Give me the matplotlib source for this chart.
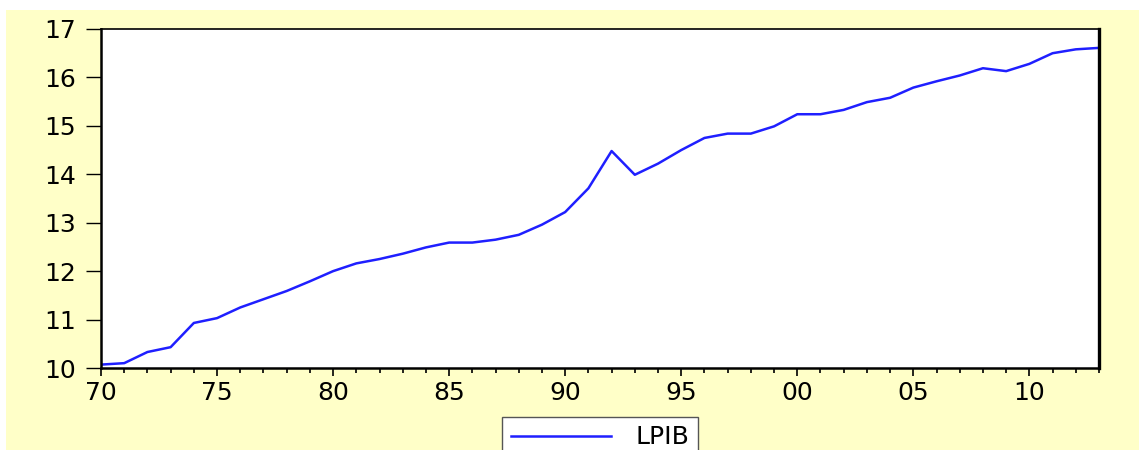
import matplotlib
matplotlib.use("Agg")
import matplotlib.pyplot as plt
from matplotlib.patches import Rectangle
from matplotlib.ticker import MultipleLocator, FixedLocator, FuncFormatter

# yearly log of GDP, 1970-2013
years = list(range(1970, 2014))
lpib = [10.07, 10.10, 10.33, 10.43, 10.93, 11.03, 11.25, 11.42, 11.59, 11.79,
        12.00, 12.16, 12.25, 12.36, 12.49, 12.59, 12.59, 12.65, 12.75, 12.96,
        13.22, 13.71, 14.48, 13.99, 14.22, 14.50, 14.75, 14.84, 14.84, 14.99,
        15.24, 15.24, 15.33, 15.49, 15.58, 15.79, 15.92, 16.04, 16.19, 16.13,
        16.28, 16.50, 16.58, 16.61]

major_years = [1970, 1975, 1980, 1985, 1990, 1995, 2000, 2005, 2010]
y_ticks = [10, 11, 12, 13, 14, 15, 16, 17]

bg = "#ffffc8"
plt.rcParams["font.family"] = ["DejaVu Sans"]

fig = plt.figure(figsize=(11.39, 4.5), dpi=100)
fig.patch.set_facecolor("white")
# pale yellow panel behind the graph
fig.patches.append(Rectangle((6 / 1139, 0), 1, 1 - 10 / 450, transform=fig.transFigure,
                             facecolor=bg, edgecolor="none", zorder=-10))

ax = fig.add_axes([101 / 1139, 1 - 368 / 450, 998 / 1139, 339 / 450])
ax.set_facecolor("white")
ax.plot(years, lpib, color="#1f1fff", linewidth=1.8, label="LPIB")

ax.set_xlim(1970, 2013)
ax.set_ylim(10, 17)
ax.xaxis.set_major_locator(FixedLocator(major_years))
ax.xaxis.set_minor_locator(MultipleLocator(1))
ax.xaxis.set_major_formatter(FuncFormatter(lambda v, p: f"{int(round(v)) % 100:02d}"))
ax.yaxis.set_major_locator(FixedLocator(y_ticks))

ax.tick_params(axis="x", which="major", direction="out", length=6, width=1.2,
               labelsize=18, pad=3, colors="black")
ax.tick_params(axis="x", which="minor", direction="out", length=3.5, width=1.2)
ax.tick_params(axis="y", which="major", direction="out", length=11, width=1.0,
               labelsize=18, pad=7, colors="black")
ax.tick_params(top=False, right=False)

for side in ["left", "bottom"]:
    ax.spines[side].set_linewidth(1.8)
ax.spines["top"].set_linewidth(1.2)
ax.spines["right"].set_linewidth(2.4)

fig.legend(loc="upper center", bbox_to_anchor=(0.527, 0.074), fontsize=18,
           frameon=True, fancybox=False, edgecolor="#555555", framealpha=1,
           handlelength=4.0, handletextpad=1.0, borderpad=0.35, borderaxespad=0)

plt.savefig("out.png", dpi=100)
